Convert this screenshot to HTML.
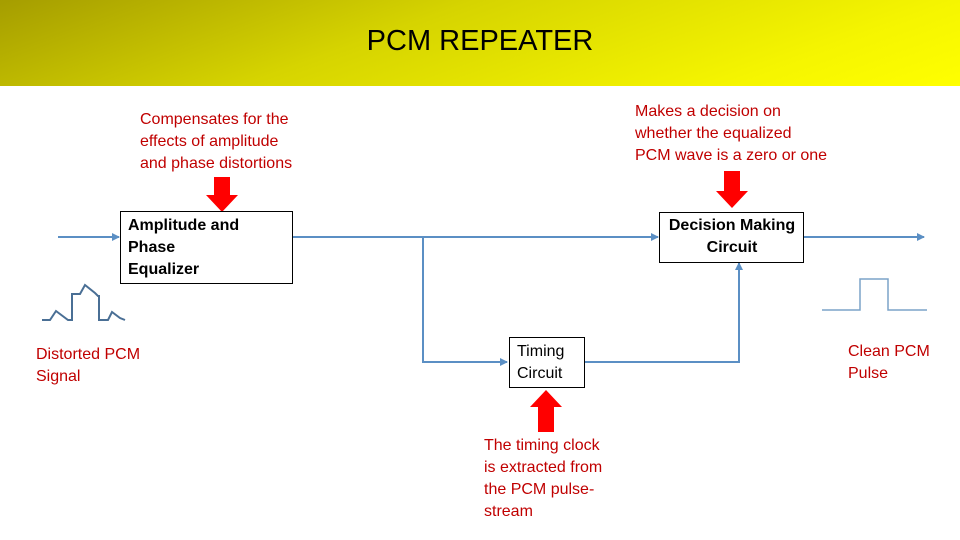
<!DOCTYPE html>
<html><head><meta charset="utf-8"><style>
html,body{margin:0;padding:0;background:#fff}
.wrap{position:relative;width:960px;height:540px;overflow:hidden;font-family:"Liberation Sans",sans-serif}
.hdr{position:absolute;left:0;top:0;width:960px;height:86px;background:linear-gradient(160deg,#a59d00 0%,#d6d400 40%,#f5f500 80%,#ffff00 100%)}
.t{position:absolute;font-size:16px;line-height:22px;color:#c00000}
.b{position:absolute;font-size:16px;line-height:22px;color:#000;font-weight:bold}
</style></head><body><div class="wrap">
<div class="hdr"></div>
<div style="position:absolute;left:0;width:960px;top:25px;text-align:center;font-size:29px;color:#000">PCM REPEATER</div>
<svg width="960" height="540" style="position:absolute;left:0;top:0">
<defs><marker id="a" markerWidth="8" markerHeight="8" refX="7" refY="4" orient="auto" markerUnits="userSpaceOnUse"><path d="M0,0 L8,4 L0,8 Z" fill="#5b8fc4"/></marker></defs>
<g stroke="#5b8fc4" stroke-width="2" fill="none">
<line x1="58" y1="237" x2="119" y2="237" marker-end="url(#a)"/>
<line x1="293" y1="237" x2="658" y2="237" marker-end="url(#a)"/>
<line x1="803" y1="237" x2="924" y2="237" marker-end="url(#a)"/>
<polyline points="423,237 423,362 507,362" marker-end="url(#a)"/>
<polyline points="585,362 739,362 739,263" marker-end="url(#a)"/>
</g>
<g stroke="#7ba3c8" stroke-width="1.5" fill="none">
<polyline points="822,310 860,310 860,279 888,279 888,310 927,310"/>
</g>
<g stroke="#4a6f95" stroke-width="2" fill="none">
<polyline points="42,320 50,320 56,311 68,320 70,320 72,320 72,294 80,294 85,285 95,293 98,296 99,296 99,320 108,320 112,312 120,318 125,320"/>
</g>
<g fill="#ff0000">
<path d="M214,177 H230 V195 H238 L222,212 L206,195 H214 Z"/>
<path d="M724,171 H740 V191 H748 L732,208 L716,191 H724 Z"/>
<path d="M538,432 H554 V407 H562 L546,390 L530,407 H538 Z"/>
</g>
<rect x="120.5" y="211.5" width="172" height="72" fill="#fff" stroke="#000"/>
<rect x="659.5" y="212.5" width="144" height="50" fill="#fff" stroke="#000"/>
<rect x="509.5" y="337.5" width="75" height="50" fill="#fff" stroke="#000"/>
</svg>
<div class="b" style="left:128px;top:215px">Amplitude and<br>Phase<br>Equalizer</div>
<div class="b" style="left:660px;top:215px;width:144px;text-align:center">Decision Making<br>Circuit</div>
<div class="t" style="left:517px;top:341px;color:#000">Timing<br>Circuit</div>
<div class="t" style="left:140px;top:109px">Compensates for the<br>effects of amplitude<br>and phase distortions</div>
<div class="t" style="left:635px;top:101px">Makes a decision on<br>whether the equalized<br>PCM wave is a zero or one</div>
<div class="t" style="left:36px;top:344px">Distorted PCM<br>Signal</div>
<div class="t" style="left:848px;top:341px">Clean PCM<br>Pulse</div>
<div class="t" style="left:484px;top:435px">The timing clock<br>is extracted from<br>the PCM pulse-<br>stream</div>
</div></body></html>
